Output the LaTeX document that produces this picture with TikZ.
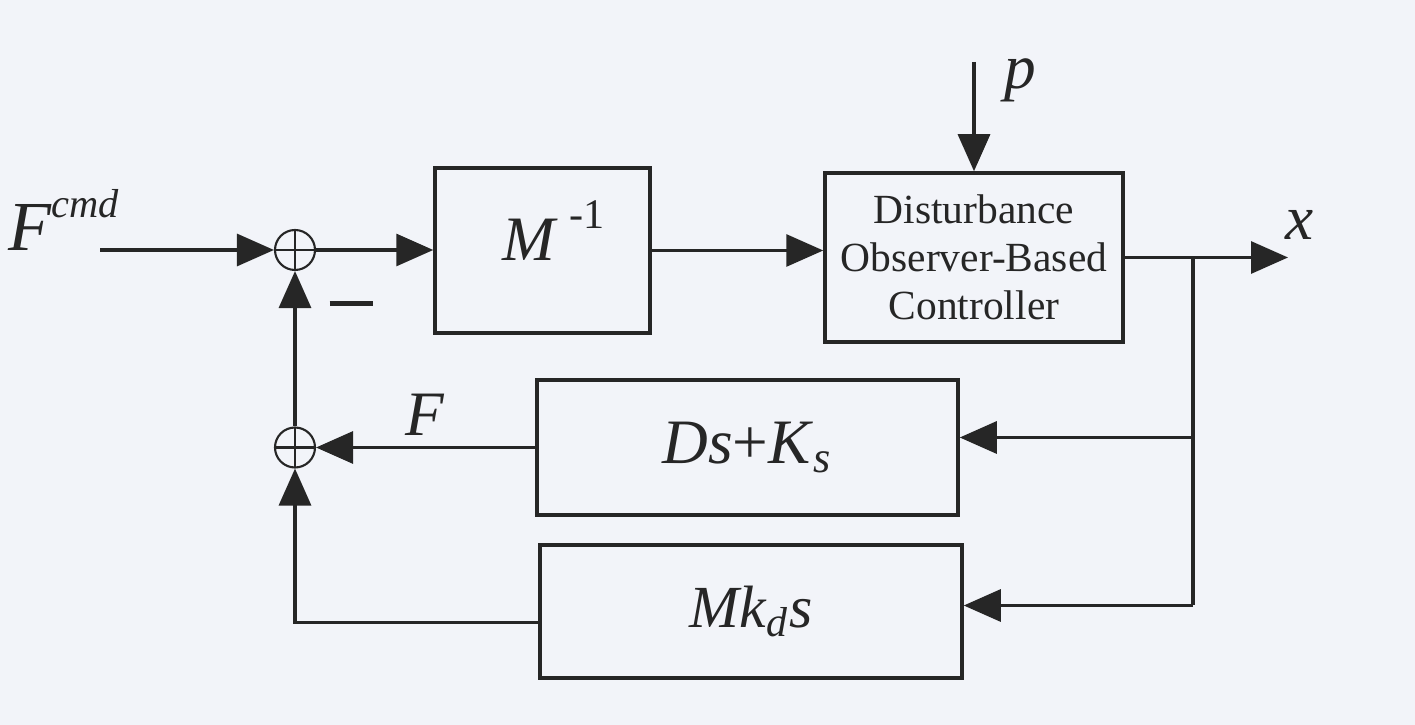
\documentclass[tikz,border=0pt]{standalone}
\usepackage{fontspec}
\setmainfont{Liberation Serif}
\usepackage{xcolor}
\definecolor{paper}{RGB}{242,244,249}
\definecolor{ink}{RGB}{38,38,38}
\usetikzlibrary{arrows.meta,positioning,calc}

\begin{document}
\begin{tikzpicture}[
  blk/.style={draw=ink,line width=1pt,minimum width=21.5mm,minimum height=16.5mm,align=center,inner sep=0pt,text=ink},
  sum/.style={circle,draw=ink,line width=0.6pt,minimum size=4mm,inner sep=0pt,
    path picture={\draw[ink,line width=0.6pt] (path picture bounding box.north) -- (path picture bounding box.south)
      (path picture bounding box.west) -- (path picture bounding box.east);}},
  sig/.style={draw=ink,line width=0.9pt,-{Triangle[length=3.7mm,width=3.2mm]}},
  wire/.style={draw=ink,line width=0.9pt},
  lbl/.style={text=ink,font=\fontsize{18}{20}\selectfont\itshape,inner sep=0pt}
]
  \fill[paper] (0,0) rectangle (14.15,7.25);
  \useasboundingbox (0,0) rectangle (14.15,7.25);

  % Forward path
  \node[lbl,font=\fontsize{20}{22}\selectfont\itshape] (fcmd) at (0.64,5.05) {F\raisebox{1.05ex}{\fontsize{11.5}{12}\selectfont cmd}};
  \coordinate (in) at (1.0,4.75);
  \node[sum] (s1) at (2.95,4.75) {};
  \node[blk,font=\fontsize{18}{20}\selectfont] (minv) at (5.425,4.745)
    {\hspace{2.2mm}\raisebox{4mm}{\textit{M}\,\raisebox{1.1ex}{\fontsize{12}{13}\selectfont -1}}};
  \node[blk,minimum width=29.8mm,minimum height=16.9mm,font=\fontsize{11.8}{13.6}\selectfont] (dob) at (9.74,4.675)
    {Disturbance\\Observer-Based\\Controller};
  \coordinate (pin) at (9.74,6.63);
  \node[lbl] (p) at (10.2,6.45) {p};
  \coordinate (out) at (12.88,4.675);
  \node[lbl] (x) at (13.0,5.0) {x};
  \coordinate (br) at (11.93,4.675);

  % Feedback path
  \node[blk,minimum width=42.1mm,minimum height=13.5mm,font=\fontsize{18}{20}\selectfont] (dk) at (7.475,2.775)
    {\textit{Ds}+\textit{K}\textsubscript{\textit{s}}};
  \node[blk,minimum width=42.2mm,minimum height=13.3mm,font=\fontsize{17}{19}\selectfont] (mk) at (7.51,1.135)
    {\textit{Mk}\textsubscript{\textit{d}}\textit{s}};
  \node[sum] (s2) at (2.95,2.775) {};
  \node[lbl] (f) at (4.25,3.1) {F};
  \node[text=ink,inner sep=0pt] (minus) at (3.51,4.21) {\rule{4.3mm}{0.5mm}};

  % Connectors
  \draw[sig] (in) -- (s1.west);
  \draw[sig] (s1.east) -- (minv.west |- s1.east);
  \draw[sig] (minv.east) -- (minv.east -| dob.west);
  \draw[sig] (pin) -- (dob.north);
  \draw[sig] (dob.east) -- (out);
  \draw[wire] (br) -- ($(br |- mk.east)+(0,0.06)$);
  \draw[sig] ($(br |- dk.east)+(0,0.1)$) -- ($(dk.east)+(0,0.1)$);
  \draw[sig] ($(br |- mk.east)+(0,0.06)$) -- ($(mk.east)+(0,0.06)$);
  \draw[sig] (dk.west) -- (s2.east);
  \draw[sig] ($(mk.west)+(0,-0.11)$) -| (s2.south);
  \draw[sig] (s2.north) -- (s1.south);
\end{tikzpicture}
\end{document}
